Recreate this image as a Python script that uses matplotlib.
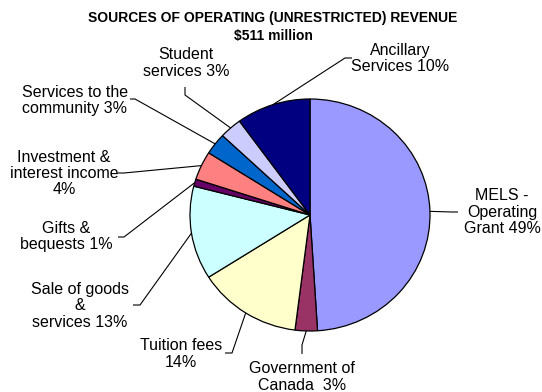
import numpy as np
import matplotlib
matplotlib.use("Agg")
import matplotlib.pyplot as plt
from matplotlib.transforms import Affine2D

plt.rcParams['font.family'] = ['Liberation Sans', 'DejaVu Sans']

# Revenue shares (%), in drawing order clockwise from 12 o'clock
categories = ["MELS - Operating Grant", "Government of Canada", "Tuition fees",
              "Sale of goods & services", "Gifts & bequests",
              "Investment & interest income", "Services to the community",
              "Student services", "Ancillary Services"]
shares = [49, 3, 14, 13, 1, 4, 3, 3, 10]
labels = ["MELS -\nOperating\nGrant 49%", "Government of\nCanada  3%",
          "Tuition fees\n14%", "Sale of goods\n&\nservices 13%",
          "Gifts &\nbequests 1%", "Investment &\ninterest income\n4%",
          "Services to the\ncommunity 3%", "Student\nservices 3%",
          "Ancillary\nServices 10%"]
colors = ["#9999FF", "#993366", "#FFFFCC", "#CCFFFF", "#660066",
          "#FF8080", "#0066CC", "#CCCCFF", "#000080"]

W, H = 542, 392
CX, CY, RX, RY = 310, 215, 120, 116

# label block centres and elbow points of the leader lines (pixel layout)
label_xy = [(502, 212), (302, 377), (181, 354), (80, 306), (66, 236.5),
            (64, 173.5), (75, 100.5), (186, 63), (400, 58.5)]
elbows = [[(458, 212), (452, 212)],
          [(302, 354), (302, 345)],
          [(225, 353), (232, 353)],
          [(133, 305), (140, 305)],
          [(118, 237), (124, 237)],
          [(118, 173), (124, 173)],
          [(130, 99), (135, 99)],
          [(185, 87), (185, 95)],
          [(352, 58), (345, 58)]]

fig = plt.figure(figsize=(W / 100, H / 100), dpi=100)
ax = fig.add_axes([0, 0, 1, 1])

pie_tr = Affine2D().scale(RX, -RY).translate(CX, CY) + ax.transData
wedges, _ = ax.pie(shares, colors=colors, startangle=90, counterclock=False,
                   wedgeprops=dict(edgecolor="black", linewidth=0.9,
                                   transform=pie_tr))
ax.set_aspect("auto")
ax.set_xlim(0, W)
ax.set_ylim(H, 0)
ax.axis("off")

for w, lab, (tx, ty), elb in zip(wedges, labels, label_xy, elbows):
    mid = np.deg2rad((w.theta1 + w.theta2) / 2)
    ex, ey = CX + RX * np.cos(mid), CY - RY * np.sin(mid)
    xs = [p[0] for p in elb] + [ex]
    ys = [p[1] for p in elb] + [ey]
    ax.plot(xs, ys, color="black", linewidth=0.8, solid_capstyle="butt")
    ax.text(tx, ty, lab, ha="center", va="center", fontsize=11.5,
            linespacing=1.12, color="black")

ax.text(273, 18, "SOURCES OF OPERATING (UNRESTRICTED) REVENUE", ha="center",
        va="center", fontsize=10, fontweight="bold")
ax.text(273, 36, "$511 million", ha="center", va="center", fontsize=10,
        fontweight="bold")

fig.savefig("out.png", dpi=100)
